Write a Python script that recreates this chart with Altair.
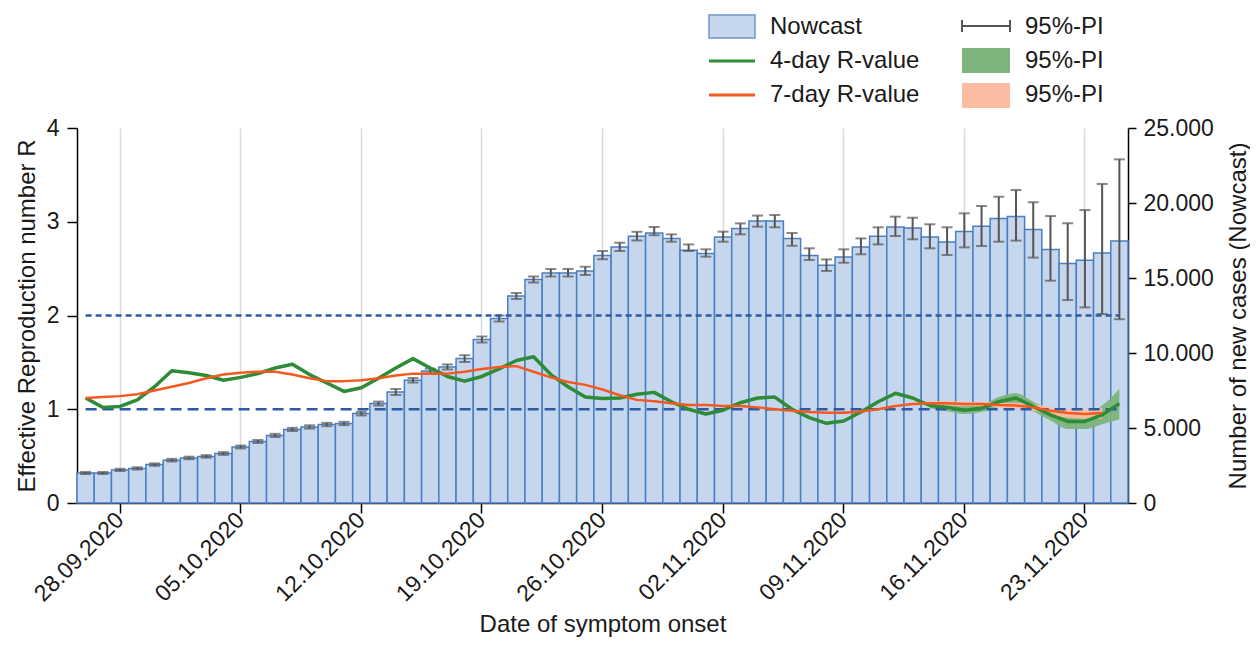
import altair as alt
import pandas as pd

FONT = "Liberation Sans"

# ---------------- data ----------------
dates = list(pd.date_range("2020-09-26", "2020-11-25", freq="D").strftime("%d.%m.%Y"))
tick_dates = ["28.09.2020", "05.10.2020", "12.10.2020", "19.10.2020", "26.10.2020",
              "02.11.2020", "09.11.2020", "16.11.2020", "23.11.2020"]

nowcast = [2000, 2000, 2200, 2300, 2560, 2850, 3000, 3100, 3300, 3730,
           4100, 4500, 4900, 5070, 5230, 5300, 5960, 6630, 7400, 8180,
           8800, 9070, 9630, 10900, 12300, 13800, 14900, 15330, 15330, 15470,
           16500, 17070, 17780, 18000, 17630, 16850, 16630, 17730, 18300, 18800,
           18800, 17630, 16500, 15850, 16400, 17070, 17780, 18400, 18330, 17730,
           17400, 18100, 18450, 18960, 19100, 18230, 16900, 15960, 16180, 16670, 17470]
nowcast_lo = [1930, 1930, 2130, 2230, 2480, 2770, 2920, 3020, 3210, 3640,
              4000, 4400, 4800, 4960, 5120, 5190, 5840, 6500, 7200, 8030,
              8640, 8900, 9400, 10700, 12100, 13600, 14700, 15100, 15100, 15200,
              16250, 16800, 17500, 17850, 17420, 16800, 16420, 17420, 17910, 18420,
              18380, 17150, 16200, 15470, 16020, 16580, 17240, 17800, 17580, 16980,
              16530, 17040, 17130, 17420, 17490, 16360, 14820, 13530, 13040, 12600, 12250]
nowcast_hi = [2070, 2070, 2280, 2380, 2640, 2940, 3090, 3190, 3390, 3830,
              4200, 4610, 5010, 5180, 5340, 5410, 6080, 6760, 7600, 8330,
              8960, 9240, 9850, 11100, 12500, 14000, 15100, 15600, 15600, 15750,
              16800, 17350, 18080, 18400, 17910, 17240, 16910, 18090, 18640, 19160,
              19200, 18000, 16980, 16240, 16910, 17640, 18380, 19090, 19020, 18580,
              18380, 19310, 19800, 20420, 20870, 20050, 19130, 18650, 19530, 21270, 22910]

r4 = [1.12, 1.02, 1.03, 1.10, 1.24, 1.41, 1.39, 1.36, 1.31, 1.34,
      1.38, 1.44, 1.48, 1.37, 1.28, 1.19, 1.23, 1.33, 1.44, 1.54,
      1.44, 1.35, 1.30, 1.35, 1.43, 1.52, 1.56, 1.37, 1.24, 1.13,
      1.115, 1.12, 1.16, 1.18, 1.08, 1.00, 0.95, 0.99, 1.07, 1.12,
      1.13, 1.00, 0.91, 0.85, 0.875, 0.97, 1.08, 1.17, 1.12, 1.04,
      1.02, 0.99, 1.01, 1.08, 1.12, 1.03, 0.94, 0.87, 0.87, 0.94, 1.06]
r7 = [1.12, 1.13, 1.14, 1.16, 1.20, 1.24, 1.28, 1.33, 1.37, 1.39,
      1.40, 1.40, 1.37, 1.33, 1.30, 1.30, 1.31, 1.33, 1.36, 1.38,
      1.38, 1.38, 1.40, 1.43, 1.45, 1.46, 1.40, 1.34, 1.29, 1.26,
      1.21, 1.15, 1.10, 1.085, 1.065, 1.045, 1.045, 1.035, 1.035, 1.02,
      1.00, 0.985, 0.97, 0.963, 0.963, 0.975, 1.00, 1.035, 1.055, 1.063,
      1.063, 1.056, 1.056, 1.045, 1.04, 1.02, 0.985, 0.96, 0.95, 0.96]

r4_band_dates = dates[-12:]
r4_lo = [1.01, 0.98, 0.95, 0.97, 1.03, 1.06, 0.98, 0.88, 0.79, 0.79, 0.84, 0.89]
r4_hi = [1.07, 1.06, 1.04, 1.05, 1.13, 1.17, 1.08, 1.00, 0.94, 0.94, 1.04, 1.22]
r7_band_dates = dates[-12:-1]
r7_lo = [1.04, 1.04, 1.035, 1.035, 1.02, 1.01, 0.985, 0.945, 0.91, 0.90, 0.90]
r7_hi = [1.085, 1.085, 1.078, 1.078, 1.07, 1.07, 1.055, 1.025, 1.005, 1.00, 1.02]

thresholds = [1, 2]

# ---------------- styles ----------------
BAR_FILL = "#c6d7ed"
BAR_STROKE = "#4a7fc1"
ERR = "#555555"
GREEN = "#2e8b36"
GREEN_BAND = "#7db47c"
ORANGE = "#f5591f"
ORANGE_BAND = "#fdbca2"
DASH = "#2b5aa6"
TXT = "#1a1a1a"

df = pd.DataFrame({"date": dates, "nowcast": nowcast, "lo": nowcast_lo,
                   "hi": nowcast_hi, "r4": r4})
df7 = pd.DataFrame({"date": dates[:len(r7)], "r7": r7})
band4 = pd.DataFrame({"date": r4_band_dates, "lo": r4_lo, "hi": r4_hi})
band7 = pd.DataFrame({"date": r7_band_dates, "lo": r7_lo, "hi": r7_hi})
thr1 = pd.DataFrame({"r": [thresholds[0]], "start": [dates[0]], "end": [dates[-1]]})
thr2 = pd.DataFrame({"r": [thresholds[1]], "start": [dates[0]], "end": [dates[-1]]})

xscale = alt.Scale(type="band", domain=dates, paddingInner=0, paddingOuter=0)
xaxis = alt.Axis(values=tick_dates, bandPosition=0.5, grid=True, gridColor="#d9d9d9",
                 gridWidth=1.5, labelAngle=315, labelAlign="right", labelBaseline="middle",
                 labelPadding=3, labelOverlap=False, labelFlush=False, tickSize=10,
                 title="Date of symptom onset", titleY=128, titleBaseline="alphabetic")


def X(field="date"):
    return alt.X(f"{field}:O", scale=xscale, axis=xaxis)


ycases = alt.Scale(domain=[0, 25000], nice=False, zero=True)
yaxis_cases = alt.Axis(orient="right", values=[0, 5000, 10000, 15000, 20000, 25000],
                       labelExpr="replace(format(datum.value, ','), ',', '.')",
                       tickSize=8, labelPadding=7, grid=False,
                       title="Number of new cases (Nowcast)", titleAngle=270,
                       titleX=117, titleBaseline="alphabetic")

yR = alt.Scale(domain=[0, 4], nice=False)
yaxis_R = alt.Axis(orient="left", values=[0, 1, 2, 3, 4], format="d", tickSize=10,
                   labelPadding=8, grid=False, title="Effective Reproduction number R",
                   titleAngle=270, titleX=-43, titleBaseline="alphabetic")


def YC(field):
    return alt.Y(f"{field}:Q", scale=ycases, axis=yaxis_cases)


def YR(field):
    return alt.Y(f"{field}:Q", scale=yR, axis=yaxis_R)


bars = alt.Chart(df).mark_bar(fill=BAR_FILL, stroke=BAR_STROKE, strokeWidth=1.5).encode(
    x=X(), y=YC("nowcast"))
err = alt.Chart(df).mark_rule(color=ERR, strokeWidth=2).encode(x=X(), y=YC("lo"), y2="hi:Q")
cap_lo = alt.Chart(df).mark_tick(color=ERR, size=11, thickness=2).encode(x=X(), y=YC("lo"))
cap_hi = alt.Chart(df).mark_tick(color=ERR, size=11, thickness=2).encode(x=X(), y=YC("hi"))
cases = alt.layer(bars, err, cap_lo, cap_hi)

area4 = alt.Chart(band4).mark_area(color=GREEN_BAND, opacity=0.95, interpolate="monotone").encode(
    x=X(), y=YR("lo"), y2="hi:Q")
area7 = alt.Chart(band7).mark_area(color=ORANGE_BAND, opacity=0.9, interpolate="monotone").encode(
    x=X(), y=YR("lo"), y2="hi:Q")
rule1 = alt.Chart(thr1).mark_rule(color=DASH, strokeWidth=2.5, strokeDash=[11, 6]).encode(
    x=X("start"), x2="end:O", y=YR("r"))
rule2 = alt.Chart(thr2).mark_rule(color=DASH, strokeWidth=2.5, strokeDash=[6, 4]).encode(
    x=X("start"), x2="end:O", y=YR("r"))
line4 = alt.Chart(df).mark_line(color=GREEN, strokeWidth=3.5, interpolate="linear",
                                strokeJoin="round").encode(x=X(), y=YR("r4"))
line7 = alt.Chart(df7).mark_line(color=ORANGE, strokeWidth=2.5, interpolate="linear",
                                 strokeJoin="round").encode(x=X(), y=YR("r7"))
rgroup = alt.layer(area4, area7, rule1, rule2, line4, line7)


# ---------------- legend ----------------
def one(label):
    return alt.Chart(pd.DataFrame({"label": [label]}))


def ltext(label, x, y):
    return one(label).mark_text(align="left", baseline="middle", fontSize=24, font=FONT,
                                color=TXT).encode(text="label:N", x=alt.value(x), y=alt.value(y))


leg = [
    one("Nowcast").mark_rect(fill=BAR_FILL, stroke="#6f94c8", strokeWidth=1.5).encode(
        x=alt.value(632), x2=alt.value(678), y=alt.value(-113), y2=alt.value(-90)),
    ltext("Nowcast", 693, -101),
    one("4-day").mark_rule(color=GREEN, strokeWidth=3).encode(
        x=alt.value(632), x2=alt.value(678), y=alt.value(-67)),
    ltext("4-day R-value", 693, -67),
    one("7-day").mark_rule(color=ORANGE, strokeWidth=3).encode(
        x=alt.value(632), x2=alt.value(678), y=alt.value(-33)),
    ltext("7-day R-value", 693, -33),
    one("pi").mark_rule(color=ERR, strokeWidth=2).encode(
        x=alt.value(885), x2=alt.value(933), y=alt.value(-102)),
    one("pi").mark_rule(color=ERR, strokeWidth=2).encode(
        x=alt.value(885), y=alt.value(-108), y2=alt.value(-96)),
    one("pi").mark_rule(color=ERR, strokeWidth=2).encode(
        x=alt.value(933), y=alt.value(-108), y2=alt.value(-96)),
    ltext("95%-PI", 948, -101),
    one("pi4").mark_rect(fill=GREEN_BAND).encode(
        x=alt.value(885), x2=alt.value(933), y=alt.value(-80), y2=alt.value(-55)),
    ltext("95%-PI", 948, -67),
    one("pi7").mark_rect(fill=ORANGE_BAND).encode(
        x=alt.value(885), x2=alt.value(933), y=alt.value(-45), y2=alt.value(-20)),
    ltext("95%-PI", 948, -33),
]

chart = alt.layer(cases, rgroup, *leg).resolve_scale(y="independent").properties(
    width=1051, height=375,
    padding={"left": 69, "top": 120, "right": 122, "bottom": 137},
    autosize=alt.AutoSizeParams(type="none"),
).configure_view(stroke=None).configure_axis(
    labelFont=FONT, titleFont=FONT, labelFontSize=23, titleFontSize=24,
    titleFontWeight="normal", labelColor=TXT, titleColor=TXT,
    domainColor="black", tickColor="black", domainWidth=1.5, tickWidth=1.5,
)

chart.save("out.html", embed_options={"renderer": "svg", "actions": False})
